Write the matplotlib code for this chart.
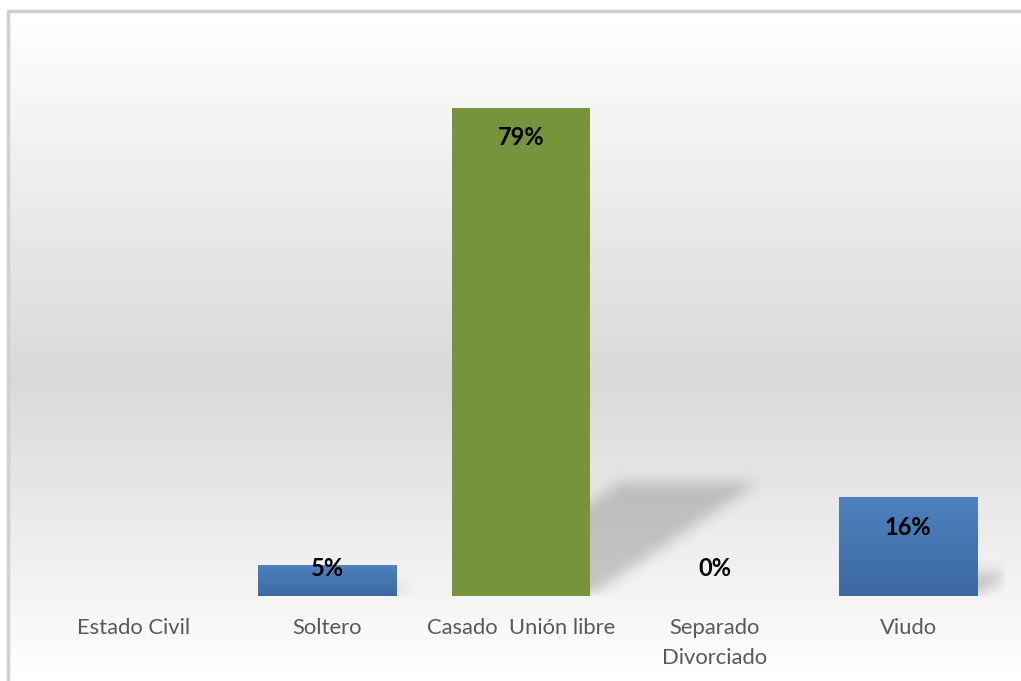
import numpy as np
import matplotlib.pyplot as plt
from matplotlib.colors import LinearSegmentedColormap

categories = ["Estado Civil", "Soltero", "Casado  Unión libre", "Separado\nDivorciado", "Viudo"]
values = [None, 0.05, 0.79, 0.0, 0.16]
labels = [None, "5%", "79%", "0%", "16%"]
bar_colors = [None, "blue", "green", None, "blue"]

W, H, DPI = 1021, 681, 100
fig = plt.figure(figsize=(W / DPI, H / DPI), dpi=DPI)
plt.rcParams['font.family'] = ['Lato', 'DejaVu Sans']

# background: gradient panel with light border (top and left edges visible)
bg = fig.add_axes([0, 0, 1, 1])
bg.set_xlim(0, W)
bg.set_ylim(H, 0)
bg.axis("off")
grad_cmap = LinearSegmentedColormap.from_list(
    "bg", [(0, "#ffffff"), (0.55, "#d9d9d9"), (1, "#ffffff")])
g = np.linspace(0, 1, 300).reshape(-1, 1)
bg.imshow(g, cmap=grad_cmap, extent=[8, W, H, 11], aspect="auto", zorder=0)
bg.plot([8, 8, W], [H, 11, 11], color="#d0d0d0", lw=2.5, zorder=1,
        solid_capstyle="butt")

# main axes
ax_l, ax_r, ax_b, ax_t = 37, 1005, 596, 40
ax = fig.add_axes([ax_l / W, (H - ax_b) / H, (ax_r - ax_l) / W, (ax_b - ax_t) / H])
ax.patch.set_alpha(0)
ylim = 0.9
x = np.arange(len(categories))
ax.set_xlim(-0.5, len(categories) - 0.5)
ax.set_ylim(0, ylim)
for s in ax.spines.values():
    s.set_visible(False)
ax.set_yticks([])
ax.set_xticks(x)
ax.set_xticklabels(categories, fontsize=15.8, color="#595959", linespacing=1.62)
ax.tick_params(axis="x", length=0, pad=16)

width = 0.715
px_w = ax_r - ax_l
px_h = ax_b - ax_t
unit_px = px_w / len(categories)
val_px = px_h / ylim

# blurred shadows cast behind the bars
mask = np.zeros((px_h, px_w))
rows = np.arange(px_h)[:, None]
cols = np.arange(px_w)[None, :]
for xi, v in zip(x, values):
    if not v:
        continue
    h = v * val_px
    hs = 0.233 * h
    dx = 0.345 * h
    x0 = (xi + 0.5 - width / 2) * unit_px
    x1 = (xi + 0.5 + width / 2) * unit_px
    t = (px_h - 1 - rows)
    shift = dx * t / hs
    inside = (t <= hs) & (cols >= x0 + shift) & (cols <= x1 + shift)
    mask = np.maximum(mask, inside.astype(float))
k = np.ones(13) / 13
for _ in range(3):
    mask = np.apply_along_axis(lambda r: np.convolve(r, k, mode="same"), 1, mask)
    mask = np.apply_along_axis(lambda c: np.convolve(c, k, mode="same"), 0, mask)
shadow = np.zeros((px_h, px_w, 4))
shadow[..., :3] = 0.45
shadow[..., 3] = mask * 0.36
ax.imshow(shadow, extent=[-0.5, len(categories) - 0.5, 0, ylim], aspect="auto",
          origin="upper", zorder=1, interpolation="bilinear")

blue_cmap = LinearSegmentedColormap.from_list("blue", ["#3c69a0", "#4f81bf"])
for xi, v, c in zip(x, values, bar_colors):
    if not v:
        continue
    if c == "green":
        ax.bar(xi, v, width=width, color="#77933c", zorder=2)
    else:
        bars = ax.bar(xi, v, width=width, color="#4a7ab5", zorder=2)
        im = ax.imshow(np.linspace(0, 1, 100).reshape(-1, 1), cmap=blue_cmap,
                       extent=[xi - width / 2, xi + width / 2, 0, v],
                       aspect="auto", origin="lower", zorder=3)
        im.set_clip_path(bars[0])

ax.set_xlim(-0.5, len(categories) - 0.5)
ax.set_ylim(0, ylim)

for xi, v, lab in zip(x, values, labels):
    if lab is None:
        continue
    y = max(v - 30 / val_px, 27 / val_px)
    ax.text(xi, y, lab, ha="center", va="center", fontsize=17,
            fontweight="bold", color="black", zorder=5)

fig.savefig("out.png", dpi=DPI)
